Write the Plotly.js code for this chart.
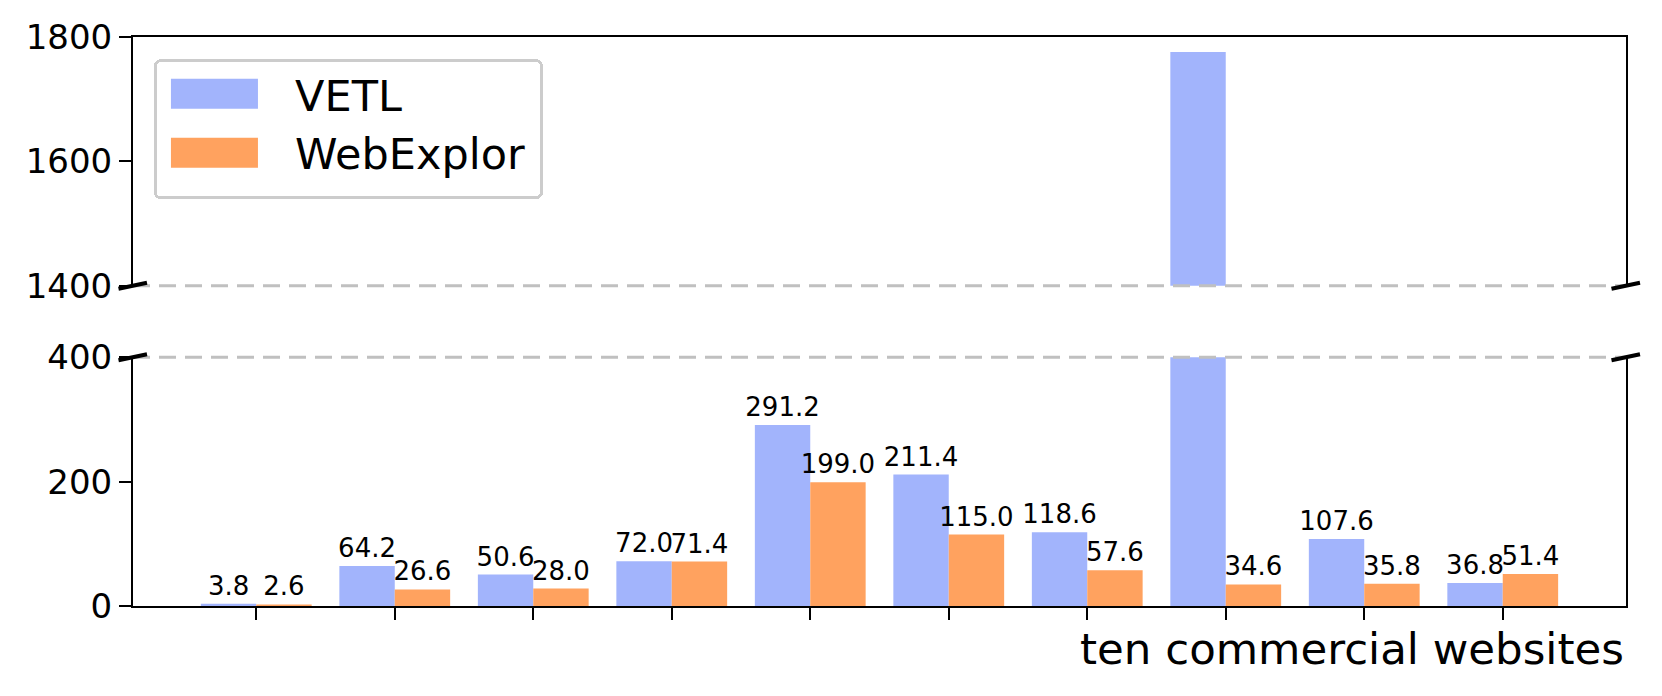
<!DOCTYPE html>
<html>
<head>
<meta charset="utf-8">
<script src="https://cdn.plot.ly/plotly-3.0.1.min.js"></script>
<style>html,body{margin:0;padding:0;background:#fff;}</style>
</head>
<body>
<div id="chart" style="width:1662px;height:696px;"></div>
<script>
// ---- data ----
const sites = [0, 1, 2, 3, 4, 5, 6, 7, 8, 9];
const seriesNames = ['VETL', 'WebExplor'];
const vetl = [3.8, 64.2, 50.6, 72.0, 291.2, 211.4, 118.6, 1776.0, 107.6, 36.8];
const webexplor = [2.6, 26.6, 28.0, 71.4, 199.0, 115.0, 57.6, 34.6, 35.8, 51.4];
const lowerTicks = [0, 200, 400];
const upperTicks = [1400, 1600, 1800];
const xLabel = 'ten commercial websites';

// ---- style ----
const FONT = 'DejaVu Sans, Liberation Sans, sans-serif';
const colors = ['#a2b4fc', '#ffa25f'];
const lowerRange = [0, 400];
const upperRange = [1400, 1800];
const lowDomTop = 0.4371, upDomBot = 0.5629;

const labelOf = v => (v <= lowerRange[1] ? v.toFixed(1) : '');

const traces = [];
[vetl, webexplor].forEach((vals, i) => {
  traces.push({
    type: 'bar', x: sites, y: vals, name: seriesNames[i],
    marker: {color: colors[i], line: {width: 0}},
    text: vals.map(labelOf), textposition: 'outside', constraintext: 'none',
    textfont: {family: FONT, size: 26, color: '#000'},
    cliponaxis: false, xaxis: 'x', yaxis: 'y', legendgroup: 'g' + i,
    hoverinfo: 'skip'
  });
});
[vetl, webexplor].forEach((vals, i) => {
  traces.push({
    type: 'bar', x: sites, y: vals, name: seriesNames[i], showlegend: false,
    marker: {color: colors[i], line: {width: 0}},
    xaxis: 'x2', yaxis: 'y2', legendgroup: 'g' + i, hoverinfo: 'skip'
  });
});

const axLine = {showline: true, linecolor: '#000', linewidth: 2, showgrid: false, zeroline: false};
const xRange = [-0.89, 9.89];

function breakMark(xa, ya) {
  return {type: 'line', xref: 'paper', yref: 'paper', xsizemode: 'pixel', ysizemode: 'pixel',
    xanchor: xa, yanchor: ya, x0: -14.5, x1: 14, y0: -3, y1: 3,
    line: {color: '#000', width: 4}};
}
function dashLine(ya) {
  return {type: 'line', xref: 'paper', yref: 'paper', x0: 0, x1: 1, y0: ya, y1: ya,
    line: {color: '#c0c0c0', width: 3, dash: '17px,9px'}};
}

const tickFont = {family: FONT, size: 34, color: '#000'};

const layout = {
  width: 1662, height: 696,
  margin: {l: 133, r: 36, t: 37, b: 90},
  paper_bgcolor: '#fff', plot_bgcolor: '#fff',
  font: {family: FONT, color: '#000', size: 34},
  barmode: 'group', bargap: 0.2, bargroupgap: 0,
  showlegend: true,
  legend: {x: 0.0141, xanchor: 'left', y: 0.9661, yanchor: 'top',
    font: {family: FONT, size: 43, color: '#000'},
    bgcolor: '#fff', bordercolor: '#cccccc', borderwidth: 3,
    itemwidth: 128, tracegroupgap: 12, traceorder: 'normal'},
  xaxis: Object.assign({}, axLine, {range: xRange, domain: [0, 1], anchor: 'y',
    tickmode: 'array', tickvals: sites, showticklabels: false,
    ticks: 'outside', ticklen: 12, tickwidth: 2, tickcolor: '#000'}),
  xaxis2: Object.assign({}, axLine, {range: xRange, domain: [0, 1], anchor: 'y2', side: 'top',
    matches: 'x', ticks: '', showticklabels: false}),
  yaxis: Object.assign({}, axLine, {range: lowerRange, domain: [0, lowDomTop], mirror: true,
    tickmode: 'array', tickvals: lowerTicks, ticks: 'outside', ticklen: 12, tickwidth: 2,
    tickcolor: '#000', tickfont: tickFont}),
  yaxis2: Object.assign({}, axLine, {range: upperRange, domain: [upDomBot, 1], mirror: true,
    tickmode: 'array', tickvals: upperTicks, ticks: 'outside', ticklen: 12, tickwidth: 2,
    tickcolor: '#000', tickfont: tickFont}),
  shapes: [
    dashLine(upDomBot), dashLine(lowDomTop),
    breakMark(0, upDomBot), breakMark(1, upDomBot),
    breakMark(0, lowDomTop), breakMark(1, lowDomTop)
  ],
  annotations: [{
    text: xLabel, xref: 'paper', yref: 'paper', x: 1, y: 0, xanchor: 'right', yanchor: 'middle',
    yshift: -43, showarrow: false, font: {family: FONT, size: 43.5, color: '#000'}
  }]
};

function fixLegend() {
  const root = document.getElementById('chart');
  const bg = root.querySelector('g.legend rect.bg');
  if (!bg) return;
  const rootBox = root.getBoundingClientRect();
  // place the legend frame like a matplotlib legend box (rounded, light grey)
  const m = bg.parentNode.getScreenCTM();
  const ox = m.e - rootBox.left, oy = m.f - rootBox.top;
  bg.setAttribute('x', (155.5 - ox).toFixed(1));
  bg.setAttribute('y', (60.8 - oy).toFixed(1));
  bg.setAttribute('width', 386);
  bg.setAttribute('height', 136.7);
  bg.setAttribute('rx', 5); bg.setAttribute('ry', 5);
  root.querySelectorAll('g.legendpoints path').forEach(p => {
    const pm = p.getScreenCTM();
    const dx = (rootBox.left + 171) - pm.e;
    p.setAttribute('d', 'M' + dx.toFixed(1) + ',-15h87v30h-87z');
    p.style.strokeWidth = '0';
  });
}

Plotly.newPlot('chart', traces, layout, {staticPlot: true, displayModeBar: false}).then(() => {
  fixLegend();
  setTimeout(fixLegend, 50);
});
</script>
</body>
</html>
